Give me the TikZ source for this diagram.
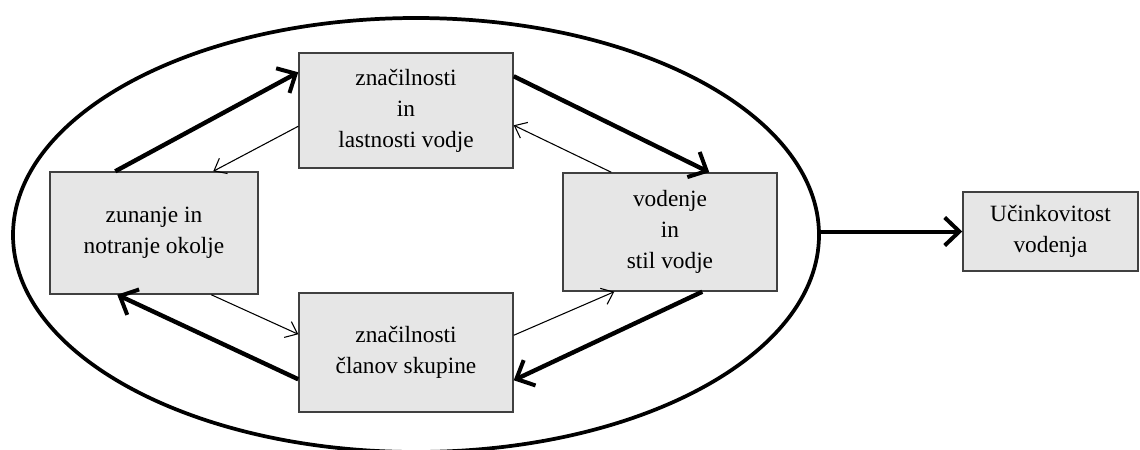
\documentclass[tikz,border=0pt]{standalone}
\usepackage{fontspec}
\setmainfont{Liberation Serif}
\usetikzlibrary{arrows.meta,calc,shapes.geometric}

\definecolor{boxfill}{RGB}{230,230,230}
\definecolor{boxline}{RGB}{64,64,64}

\tikzset{
  stepbox/.style={draw=boxline, fill=boxfill, line width=1.1pt, inner sep=0pt,
    align=center, font=\fontsize{17.5}{23.25}\selectfont},
  strong/.style={line width=3.3pt, -{Straight Barb[length=11pt,width=21pt,line width=3pt]}},
  weak/.style={line width=0.8pt, -{Straight Barb[length=8pt,width=13pt,line width=0.8pt]}},
  outer/.style={draw, ellipse, line width=2.8pt, inner sep=0pt}
}

\begin{document}
\begin{tikzpicture}[x=0.75pt, y=-0.75pt]
  \useasboundingbox (0,0) rectangle (1140,450);

  % enclosing ellipse
  \node[outer, minimum width=604.5pt, minimum height=325.5pt] (env) at (416,235) {};

  % the four factors and the result
  \node[stepbox, minimum width=160.5pt, minimum height=86.25pt] (tb) at (406,110.5)
    {značilnosti\\in\\lastnosti vodje};
  \node[stepbox, minimum width=156pt, minimum height=91.5pt] (lb) at (154,233)
    {zunanje in\\notranje okolje};
  \node[stepbox, minimum width=160.5pt, minimum height=88.5pt] (rb) at (670,232)
    {vodenje\\in\\stil vodje};
  \node[stepbox, minimum width=160.5pt, minimum height=89.25pt] (bb) at (406,352.5)
    {značilnosti\\članov skupine};
  \node[stepbox, minimum width=131.25pt, minimum height=59.25pt] (fb) at (1050.5,231.5)
    {Učinkovitost\\vodenja};

  % main cycle (thick)
  \draw[strong] ($(lb.north west)+(66,0)$) -- ($(tb.north west)+(0,20)$);
  \draw[strong] ($(tb.north east)+(0,24)$) -- ($(rb.north west)+(147,0)$);
  \draw[strong] ($(rb.south west)+(140,0)$) -- ($(bb.north east)+(0,88)$);
  \draw[strong] ($(bb.north west)+(0,87)$) -- ($(lb.south west)+(68,0)$);

  % feedback (thin)
  \draw[weak] ($(tb.north west)+(0,74)$) -- ($(lb.north west)+(164,0)$);
  \draw[weak] ($(rb.north west)+(49,0)$) -- ($(tb.north east)+(0,73)$);
  \draw[weak] ($(bb.north east)+(0,43)$) -- ($(rb.south west)+(52,0)$);
  \draw[weak] ($(lb.south west)+(162,0)$) -- ($(bb.north west)+(0,42)$);

  % outcome
  \draw[line width=3pt, -{Straight Barb[length=11pt,width=21pt,line width=3pt]}]
    (env.east |- fb.west) -- (fb.west);
\end{tikzpicture}
\end{document}
